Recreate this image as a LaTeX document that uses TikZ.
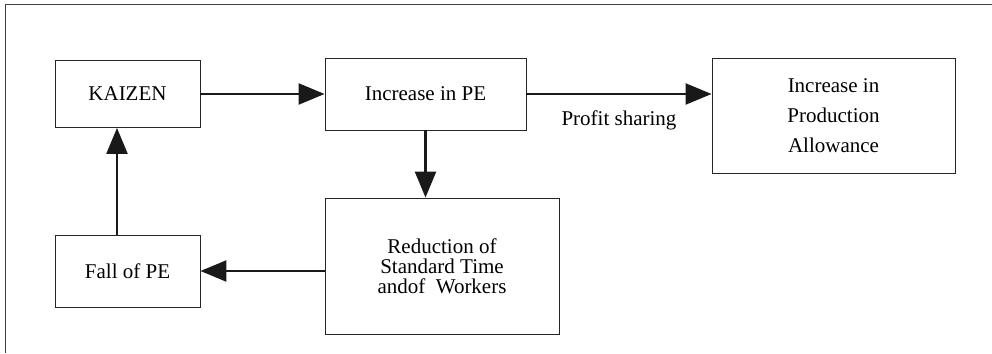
\documentclass[tikz,border=0pt]{standalone}
\usepackage{fontspec}
\setmainfont{Liberation Serif}
\usetikzlibrary{arrows.meta}
\begin{document}
\begin{tikzpicture}[x=1pt,y=-1pt,
  box/.style={draw=black!85,line width=0.9pt,rectangle,inner sep=0pt,align=center,
    font=\fontsize{21}{30}\selectfont},
  conn/.style={line width=2.4pt,draw=black!90,-{Triangle[length=26pt,width=21pt]}}]
\useasboundingbox (0,0) rectangle (992,353);
\draw[line width=1pt,black!75] (5,353) -- (5,5) -- (992,5);
\node[box,minimum width=145pt,minimum height=67pt] (kaizen) at (127.5,94) {KAIZEN};
\node[box,minimum width=201pt,minimum height=72pt] (incpe) at (425.5,94) {Increase in PE};
\node[box,minimum width=243pt,minimum height=115pt] (prod) at (833.5,115.5) {Increase in\\Production\\Allowance};
\node[box,minimum width=234pt,minimum height=136pt,font=\fontsize{21}{20}\selectfont] (red) at (442,266) {Reduction of\\Standard Time\\andof~ Workers};
\node[box,minimum width=145pt,minimum height=72pt] (fall) at (127.5,271) {Fall of PE};
\draw[conn] (kaizen.east) -- (incpe.west);
\draw[conn] (incpe.east) -- node[below=12pt,font=\fontsize{21}{24}\selectfont] (ps) {Profit sharing} (prod.west |- incpe.east);
\draw[conn] (incpe.south) -- (red.north -| incpe.south);
\draw[conn] (red.west |- fall.east) -- (fall.east);
\draw[conn] (fall.north -| 117,0) -- (kaizen.south -| 117,0);
\end{tikzpicture}
\end{document}
